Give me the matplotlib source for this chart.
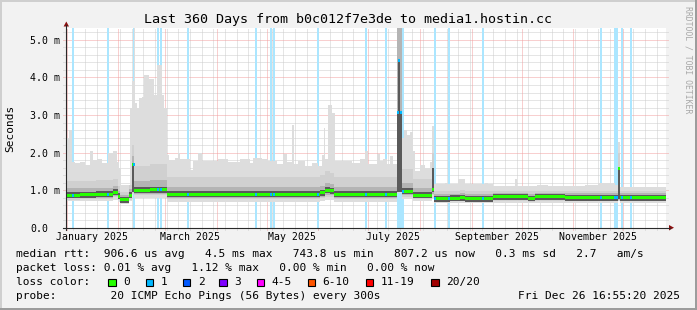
import numpy as np
import pandas as pd
import matplotlib
matplotlib.use('Agg')
import matplotlib.pyplot as plt
from matplotlib.lines import Line2D
from matplotlib.patches import Rectangle, Polygon

W, H = 697, 310
MONO = 'DejaVu Sans Mono'

START = pd.Timestamp('2024-12-31 16:55:20')
SPAN_DAYS = 360
Y_TOP = 5.318  # ms

# --- median rtt (ms) as steps: each value holds from its day until the next day
seg_days = [0, 8.2, 17.8, 28.0, 31.3, 32.2, 37.9, 39.7, 40.9, 50.2, 60.2, 152.2, 155.2, 158.2,
            160.6, 198.2, 199.2, 200.4, 201.4, 208.0, 219.4, 220.4, 230.0, 236.4, 239.4, 256.0,
            277.0, 281.2, 299.2, 331.0, 332.0]
median_ms = [0.87, 0.88, 0.89, 0.95, 0.84, 0.74, 0.86, 1.67, 1.00, 1.01, 0.89, 0.93, 1.00, 0.98,
             0.89, 3.08, 4.45, 3.08, 0.97, 0.87, 1.02, 0.765, 0.78, 0.80, 0.765, 0.82,
             0.775, 0.82, 0.80, 1.58, 0.80]

# --- smoke bands (ms) on the same steps
smoke_lo = [0.70, 0.70, 0.71, 0.74, 0.69, 0.63, 0.70, 0.90, 0.80, 0.80, 0.69, 0.71, 0.74, 0.73,
            0.69, 0.92, 0.92, 0.92, 0.76, 0.70, 0.78, 0.65, 0.65, 0.66, 0.65, 0.66,
            0.65, 0.66, 0.65, 0.70, 0.65]
mid_lo = [0.75, 0.76, 0.77, 0.81, 0.74, 0.67, 0.75, 0.92, 0.87, 0.87, 0.76, 0.78, 0.83, 0.82,
          0.76, 0.94, 0.94, 0.94, 0.83, 0.76, 0.86, 0.69, 0.70, 0.71, 0.69, 0.71,
          0.69, 0.71, 0.70, 0.72, 0.70]
mid_hi = [1.25, 1.25, 1.27, 1.30, 1.10, 0.95, 1.15, 2.20, 1.65, 1.70, 1.35, 1.40, 1.50, 1.45,
          1.35, 6.00, 6.00, 6.00, 1.55, 1.30, 2.00, 0.97, 0.99, 1.01, 0.97, 0.99,
          0.97, 0.99, 0.98, 2.00, 0.98]
dark_lo = [0.78, 0.79, 0.80, 0.85, 0.76, 0.69, 0.78, 0.94, 0.90, 0.90, 0.79, 0.82, 0.87, 0.86,
           0.79, 0.95, 0.95, 0.95, 0.86, 0.78, 0.90, 0.71, 0.72, 0.74, 0.71, 0.75,
           0.72, 0.75, 0.74, 0.74, 0.74]
dark_hi = [1.05, 1.06, 1.07, 1.12, 0.99, 0.88, 1.02, 1.90, 1.25, 1.27, 1.08, 1.12, 1.20, 1.17,
           1.08, 6.00, 6.00, 6.00, 1.20, 1.05, 1.59, 0.89, 0.91, 0.93, 0.89, 0.93,
           0.90, 0.93, 0.92, 1.58, 0.92]
core_lo = [0.79, 0.80, 0.81, 0.87, 0.76, 0.66, 0.78, 0.96, 0.92, 0.93, 0.81, 0.85, 0.92, 0.90,
           0.81, 0.96, 0.96, 0.96, 0.89, 0.79, 0.94, 0.69, 0.70, 0.72, 0.69, 0.74,
           0.70, 0.74, 0.72, 0.76, 0.72]
core_hi = [0.95, 0.96, 0.97, 1.03, 0.92, 0.82, 0.94, 1.67, 1.08, 1.09, 0.97, 1.01, 1.08, 1.06,
           0.97, 3.08, 4.45, 3.08, 1.05, 0.95, 1.59, 0.84, 0.86, 0.88, 0.84, 0.90,
           0.85, 0.90, 0.88, 1.58, 0.88]

# --- top of the light smoke (highest ping, ms)
max_days = [0, 1.8, 3.2, 5.2, 8.2, 11.2, 14.2, 16.2, 18.2, 21.2, 25.0, 28.0, 30.4, 31.6, 33.1,
            38.2, 39.4, 40.6, 41.2, 42.6, 43.8, 45.2, 46.6, 49.8, 52.6, 54.2, 57.2, 58.8,
            60.2, 61.6, 65.2, 66.8, 68.2, 74.2, 76.2, 79.2, 81.2, 91.0, 97.0, 104.2, 110.2,
            112.2, 114.2, 117.2, 121.0, 126.2, 130.2, 132.2, 135.2, 136.8, 139.2, 143.2,
            147.2, 151.2, 153.2, 154.6, 155.2, 157.2, 159.2, 161.2, 171.2, 176.2, 179.2,
            181.2, 186.2, 188.2, 190.2, 192.2, 194.2, 196.2, 198.2, 201.2, 202.8, 204.2,
            206.2, 208.2, 209.2, 212.2, 215.2, 218.2, 219.2, 220.4, 227.2, 229.2, 235.0,
            239.2, 251.2, 253.0, 256.0, 269.2, 270.2, 282.2, 289.0, 311.2, 319.0, 329.2,
            331.0, 332.0]
smoke_max = [2.38, 2.60, 1.76, 1.72, 1.76, 1.68, 2.05, 1.80, 1.84, 1.72, 1.99, 2.03, 1.76, 1.58,
             1.15, 3.20, 3.90, 6.00, 3.32, 3.19, 3.45, 3.48, 4.07, 3.97, 3.54, 4.34, 3.54, 3.20,
             1.94, 1.80, 1.86, 1.98, 1.82, 1.54, 1.78, 1.98, 1.77, 1.82, 1.74, 1.84, 1.72,
             1.86, 1.85, 1.82, 1.77, 1.70, 1.96, 1.74, 2.74, 1.70, 1.77, 1.63,
             1.72, 1.63, 1.93, 2.65, 1.84, 3.27, 3.06, 1.77, 1.72, 1.82, 2.03,
             1.70, 1.95, 1.78, 1.84, 1.70, 1.90, 1.70, 6.00, 2.38, 2.60, 2.47,
             2.55, 2.03, 1.50, 1.68, 1.60, 1.76, 2.70, 1.16, 1.20, 1.16, 1.30,
             1.16, 1.20, 1.16, 1.10, 1.30, 1.11, 1.15, 1.11, 1.15, 1.18, 1.15,
             2.29, 1.09]

# --- days with 1/20 packet loss
loss_days = [3.8, 25.2, 40.8, 54.8, 56.8, 73.0, 113.8, 122.6, 124.6, 150.8, 179.6, 191.8,
             198.8, 199.9, 201.0, 202.0, 221.5, 229.8, 249.8, 320.6, 329.2, 330.3, 333.6, 338.8]

title = 'Last 360 Days from b0c012f7e3de to media1.hostin.cc'
month_labels = ['January 2025', 'March 2025', 'May 2025', 'July 2025',
                'September 2025', 'November 2025']
label_months = ['2025-01-01', '2025-03-01', '2025-05-01', '2025-07-01', '2025-09-01', '2025-11-01']
rtt_line = 'median rtt:  906.6 us avg   4.5 ms max   743.8 us min   807.2 us now   0.3 ms sd   2.7   am/s'
loss_line = 'packet loss: 0.01 % avg   1.12 % max   0.00 % min   0.00 % now'
probe_line = 'probe:        20 ICMP Echo Pings (56 Bytes) every 300s'
stamp = 'Fri Dec 26 16:55:20 2025'
loss_names = ['0', '1', '2', '3', '4-5', '6-10', '11-19', '20/20']
loss_colors = ['#26ff00', '#00b8ff', '#0059ff', '#7e00ff', '#ff00ff', '#ff5500', '#ff0000', '#a10000']


def fx(px):
    return px / W


def fy(py):
    return 1 - py / H


def to_day(ts):
    return (ts - START).total_seconds() / 86400.0


def step_at(days, vals, x):
    i = np.searchsorted(days, x, side='right') - 1
    return np.asarray(vals)[i]


def ext(v):
    v = np.asarray(v, dtype=float)
    return np.append(v, v[-1])


fig = plt.figure(figsize=(W / 100, H / 100), dpi=100, facecolor='#f2f2f2')
ax = fig.add_axes([fx(66.3), fy(227.7), 600 / W, 199.7 / H])
ax.set_facecolor('white')
for s in ax.spines.values():
    s.set_visible(False)
ax.set_xticks([])
ax.set_yticks([])
ax.set_xlim(0, SPAN_DAYS)
ax.set_ylim(0, Y_TOP)

# grid
end_ts = START + pd.Timedelta(days=SPAN_DAYS)
xt = ax.get_xaxis_transform()
yt = ax.get_yaxis_transform()
dots = (0, (1, 1))
for ts in pd.date_range(START.normalize(), end_ts, freq='W-SUN'):
    d = to_day(ts)
    if 0 < d < SPAN_DAYS:
        ax.plot([d, d], [-0.012, 1], transform=xt, color='#cccccc', lw=0.72, ls=dots,
                clip_on=False, zorder=1)
for ts in pd.date_range(START.normalize(), end_ts, freq='MS'):
    d = to_day(ts)
    if 0 < d < SPAN_DAYS:
        ax.plot([d, d], [-0.012, 1], transform=xt, color='#f2a0a0', lw=0.72, ls=dots,
                clip_on=False, zorder=1.5)
for v in np.arange(0.2, Y_TOP, 0.2):
    major = abs(v - round(v)) < 1e-6
    ax.plot([-0.005, 1.004], [v, v], transform=yt, lw=0.72, ls=dots, clip_on=False,
            color='#f2a0a0' if major else '#cccccc', zorder=1.5 if major else 1)

# loss stripes
ax.bar(loss_days, Y_TOP, bottom=0, width=1.2, color='#abe6ff', lw=0, zorder=2)

# smoke
grid = np.union1d(seg_days, max_days)
gx = np.append(grid, SPAN_DAYS)
top = ext(step_at(max_days, smoke_max, grid))
bot = ext(step_at(seg_days, smoke_lo, grid))
ax.fill_between(gx, bot, top, step='post', color='#dddddd', lw=0, zorder=3)
sx = np.append(seg_days, SPAN_DAYS)
ax.fill_between(sx, ext(mid_lo), ext(mid_hi), step='post', color='#d0d0d0', lw=0, zorder=4)
ax.fill_between(sx, ext(dark_lo), ext(dark_hi), step='post', color='#b4b4b4', lw=0, zorder=5)
ax.fill_between(sx, ext(core_lo), ext(core_hi), step='post', color='#5a5a5a', lw=0, zorder=6)

# median, coloured by loss
med = ext(median_ms)
ax.fill_between(sx, med - 0.04, med + 0.04, step='post', color='#26ff00', lw=0, zorder=7)
loss_med = step_at(seg_days, median_ms, loss_days)
ax.bar(loss_days, 0.08, bottom=loss_med - 0.04, width=1.2, color='#00b8ff', lw=0, zorder=8)

# axis lines and arrows
fig.add_artist(Line2D([fx(63), fx(670)], [fy(227.7), fy(227.7)], transform=fig.transFigure,
                      color='#2a2a2a', lw=0.8))
fig.add_artist(Line2D([fx(66.3), fx(66.3)], [fy(230), fy(25)], transform=fig.transFigure,
                      color='#2a2a2a', lw=0.8))
fig.add_artist(Polygon([[fx(674), fy(227.7)], [fx(669), fy(225)], [fx(669), fy(230.5)]],
                       closed=True, transform=fig.transFigure, color='#8b1010', lw=0))
fig.add_artist(Polygon([[fx(66.3), fy(21.5)], [fx(63.6), fy(26.5)], [fx(69.0), fy(26.5)]],
                       closed=True, transform=fig.transFigure, color='#8b1010', lw=0))

# y tick labels
for v in range(0, 6):
    lab = '0.0' if v == 0 else f'{v}.0 m'
    ax.annotate(lab, xy=(fx(30), v), xycoords=('figure fraction', 'data'),
                xytext=(0, -4), textcoords='offset pixels', ha='left', va='baseline',
                fontsize=7.15, family=MONO, annotation_clip=False)

# x labels (centred half a month after the month start)
for lab, m in zip(month_labels, label_months):
    d = to_day(pd.Timestamp(m) + pd.Timedelta(days=15))
    ax.annotate(lab, xy=(d, fy(239.5)), xycoords=('data', 'figure fraction'),
                ha='center', va='baseline', fontsize=7.15, family=MONO, annotation_clip=False)

fig.text(fx(348.5), fy(23.5), title, ha='center', va='baseline', fontsize=9.6, family=MONO)
fig.text(fx(10.5), fy(128), 'Seconds', rotation=90, ha='center', va='center',
         fontsize=8, family=MONO)
fig.text(fx(688), fy(59.5), 'RRDTOOL / TOBI OETIKER', rotation=270, ha='center', va='center',
         fontsize=5.9, family=MONO, color='#a8a8a8')

# legend
fig.text(fx(16), fy(257.3), rtt_line, ha='left', va='baseline', fontsize=8.05, family=MONO)
fig.text(fx(16), fy(271.3), loss_line, ha='left', va='baseline', fontsize=8.05, family=MONO)
fig.text(fx(16), fy(285.3), 'loss color:', ha='left', va='baseline', fontsize=8.05, family=MONO)
fig.text(fx(16), fy(299.3), probe_line, ha='left', va='baseline', fontsize=8.05, family=MONO)
fig.text(fx(680), fy(299.3), stamp, ha='right', va='baseline', fontsize=8.05, family=MONO)
box_x = [108.3, 145.7, 182.7, 219.3, 256.7, 307.7, 365.7, 431.0]
for bx, name, col in zip(box_x, loss_names, loss_colors):
    fig.add_artist(Rectangle((fx(bx), fy(286)), 7.5 / W, 7.5 / H, transform=fig.transFigure,
                             facecolor=col, edgecolor='black', lw=0.8))
    fig.text(fx(bx + 15), fy(285.3), name, ha='left', va='baseline', fontsize=8.05, family=MONO)

# frame
fig.add_artist(Rectangle((0, fy(2)), 1, 2 / H, transform=fig.transFigure, color='#cfcfcf', lw=0))
fig.add_artist(Rectangle((0, 0), 2 / W, 1, transform=fig.transFigure, color='#cfcfcf', lw=0))
fig.add_artist(Rectangle((0, 0), 1, 2 / H, transform=fig.transFigure, color='#9c9c9c', lw=0))
fig.add_artist(Rectangle((1 - 2 / W, 0), 2 / W, 1, transform=fig.transFigure, color='#9c9c9c', lw=0))

fig.savefig('out.png', dpi=100, facecolor=fig.get_facecolor())
